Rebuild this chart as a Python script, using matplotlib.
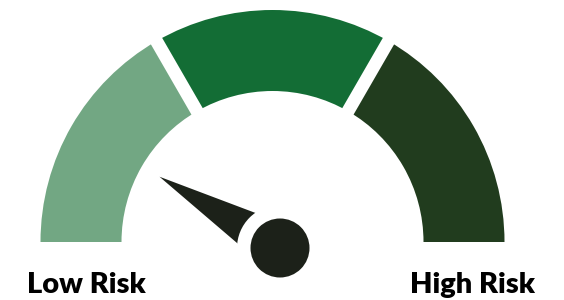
import numpy as np
import matplotlib
matplotlib.use("Agg")
import matplotlib.pyplot as plt
from matplotlib.patches import Wedge, Circle, Polygon

# Data
segment_labels = ["Low", "Medium", "High"]
segment_sizes = [1, 1, 1]            # equal thirds of the half circle
segment_colors = ["#72A783", "#136D35", "#213C1E"]
needle_value = 0.17                   # fraction of the gauge from the left
end_labels = ["Low Risk", "High Risk"]

W, H = 564, 300
fig = plt.figure(figsize=(W / 100, H / 100), dpi=100)
ax = fig.add_axes([0, 0, 1, 1])
ax.set_xlim(0, W)
ax.set_ylim(0, H)
ax.axis("off")

cx, cy = 272.5, 58.0
R, width = 232.0, 81.0
gap_pt = 13 * 0.72

total = sum(segment_sizes)
start = 180.0
for size, col in zip(segment_sizes, segment_colors):
    span = 180.0 * size / total
    ax.add_patch(Wedge((cx, cy), R, start - span, start, width=width,
                       facecolor=col, edgecolor="none"))
    start -= span

# white gaps between segments
acc = 0
for size in segment_sizes[:-1]:
    acc += size
    ang = np.deg2rad(180.0 * (1 - acc / total))
    ax.plot([cx + (R - width - 5) * np.cos(ang), cx + (R + 5) * np.cos(ang)],
            [cy + (R - width - 5) * np.sin(ang), cy + (R + 5) * np.sin(ang)],
            color="white", lw=gap_pt, solid_capstyle="butt", zorder=3)

# needle
hx, hy = 280.0, 52.0
L = 140.0
a = np.deg2rad(180.0 * (1 - needle_value))
d = np.array([np.cos(a), np.sin(a)])
p = np.array([-d[1], d[0]])
hub = np.array([hx, hy])
tip = hub + L * d
s0 = 10.0
hw = 17.5 * (L - s0) / 100.0
b1 = hub + s0 * d + hw * p
b2 = hub + s0 * d - hw * p
ax.add_patch(Polygon([tip, b1, b2], closed=True, facecolor="#1C2119",
                     edgecolor="none", zorder=4))
ax.add_patch(Circle((hx, hy), 43, facecolor="white", edgecolor="none", zorder=5))
ax.add_patch(Circle((hx, hy), 29.5, facecolor="#1C2119", edgecolor="none", zorder=6))

ax.text(86, 7, end_labels[0], fontsize=21, fontweight="heavy", family="Lato",
        ha="center", va="baseline", color="black")
ax.text(472.5, 7, end_labels[1], fontsize=21, fontweight="heavy", family="Lato",
        ha="center", va="baseline", color="black")

fig.savefig("out.png", dpi=100)
